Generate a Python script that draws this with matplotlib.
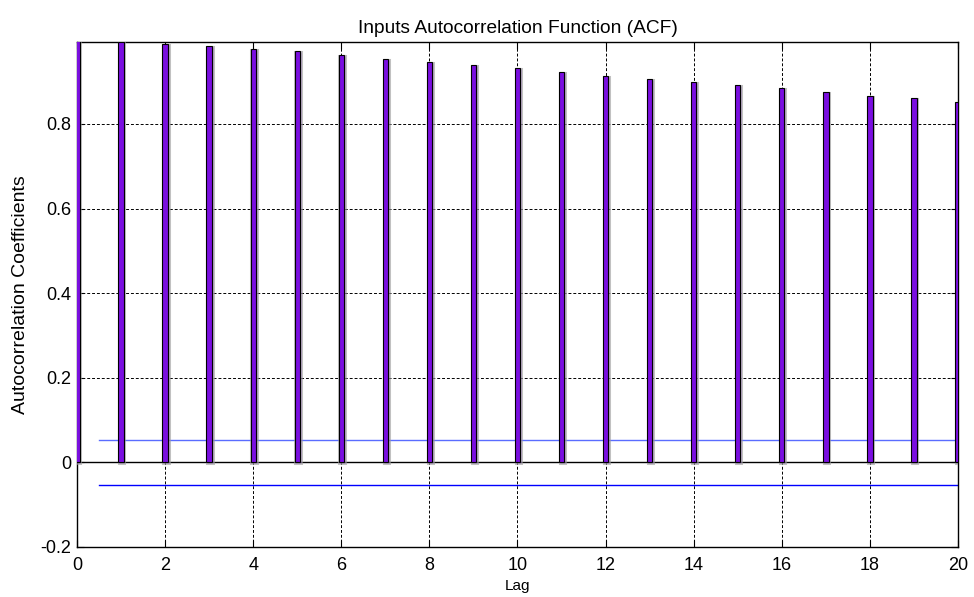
import matplotlib
matplotlib.use("Agg")
import matplotlib.pyplot as plt
import matplotlib.patheffects as pe
import numpy as np

lags = list(range(0, 21))
acf = [1.0, 0.9935, 0.9888, 0.984, 0.977, 0.972, 0.963, 0.953, 0.946, 0.939,
       0.932, 0.923, 0.913, 0.906, 0.899, 0.892, 0.885, 0.875, 0.866, 0.861, 0.852]
conf_bound = 0.054
xticks = list(range(0, 21, 2))
yticks = [-0.2, 0, 0.2, 0.4, 0.6, 0.8]
ytick_labels = ["-0.2", "0", "0.2", "0.4", "0.6", "0.8"]

plt.rcParams['font.family'] = ['Liberation Sans', 'DejaVu Sans']

fig = plt.figure(figsize=(9.74, 5.97), dpi=100)
ax = fig.add_axes([0.079, 0.0838, 0.9046, 0.8458])

ax.set_xlim(0, 20)
ax.set_ylim(-0.2, 0.9935)

# grid
ax.set_axisbelow(True)
ax.grid(True, color='black', linestyle=(0, (3, 2)), linewidth=0.7)

# confidence bounds
ax.plot([0.5, 20], [conf_bound, conf_bound], color='#5a6cff', lw=1.0, zorder=2)
ax.plot([0.5, 20], [-conf_bound, -conf_bound], color='#0000ff', lw=1.0, zorder=2)

# zero line
ax.axhline(0, color='black', lw=1.0, zorder=3)

bars = ax.bar(lags, acf, width=0.12, color='#7a0fe0', edgecolor='black',
              linewidth=0.8, zorder=4)
for b in bars:
    b.set_path_effects([pe.Stroke(linewidth=2.2, foreground='#999999', alpha=0.6, offset=(0.6, -0.6)),
                        pe.Normal()])

ax.set_xticks(xticks)
ax.set_yticks(yticks)
ax.set_yticklabels(ytick_labels)
ax.tick_params(direction='in', labelsize=13, length=5, width=0.8, top=True, right=True)
ax.tick_params(axis='x', pad=7)
ax.tick_params(axis='y', pad=4)
for s in ax.spines.values():
    s.set_linewidth(1.0)

ax.set_title("Inputs Autocorrelation Function (ACF)", fontsize=13.8, pad=6.5)
ax.set_xlabel("Lag", fontsize=11, labelpad=4)
ax.set_ylabel("Autocorrelation Coefficients", fontsize=14, labelpad=8)

fig.savefig("out.png", dpi=100)
